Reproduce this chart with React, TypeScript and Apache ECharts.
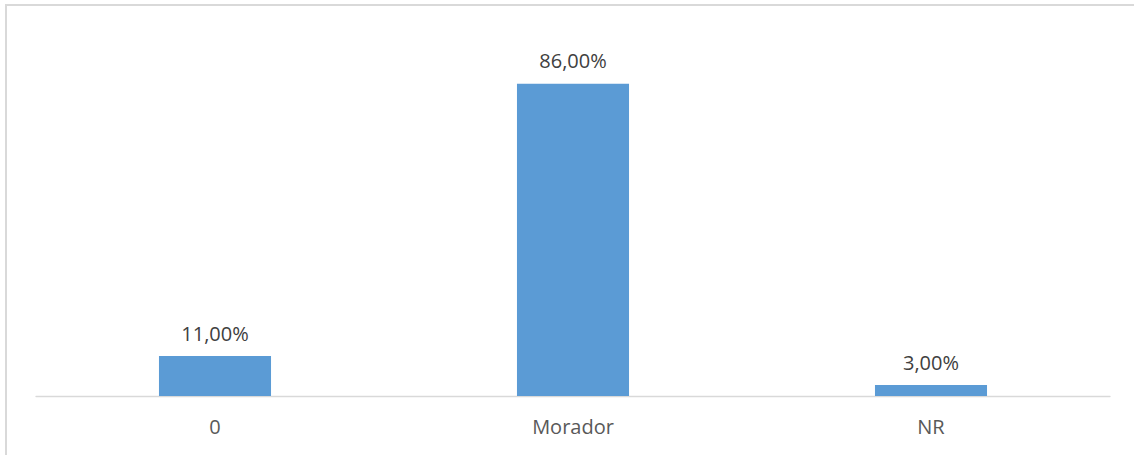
import React, { useEffect, useRef } from "react";
import * as echarts from "echarts";

const categories = ["0", "Morador", "NR"];
const values = [11, 86, 3];

export default function App() {
  const ref = useRef<HTMLDivElement>(null);
  useEffect(() => {
    if (!ref.current) return;
    const chart = echarts.init(ref.current, null, { renderer: "svg" });
    chart.setOption({
      animation: false,
      backgroundColor: "#ffffff",
      textStyle: { fontFamily: "Open Sans" },
      grid: { left: 36, right: 24, top: 33, bottom: 59, containLabel: false },
      xAxis: {
        type: "category",
        data: categories,
        axisLine: { show: true, lineStyle: { color: "#d9d9d9", width: 1.3 } },
        axisTick: { show: false },
        axisLabel: { color: "#595959", fontSize: 20, margin: 20, fontFamily: "Open Sans" },
      },
      yAxis: {
        type: "value",
        min: 0,
        max: 100,
        show: false,
        splitLine: { show: false },
      },
      series: [
        {
          type: "bar",
          data: values,
          barWidth: "31.3%",
          itemStyle: { color: "#5b9bd5" },
          label: {
            show: true,
            position: "top",
            distance: 13,
            color: "#404040",
            fontSize: 20,
            fontFamily: "Open Sans",
            formatter: (p: any) => p.value.toFixed(2).replace(".", ",") + "%",
          },
        },
      ],
      graphic: [
        {
          type: "rect",
          shape: { x: 6, y: 5, width: 2000, height: 2000 },
          style: { fill: "none", stroke: "#d9d9d9", lineWidth: 2 },
          silent: true,
        },
      ],
    });
    return () => chart.dispose();
  }, []);
  return (
    <div
      ref={ref}
      style={{ position: "absolute", left: 0, top: 0, width: 1134, height: 455 }}
    />
  );
}
